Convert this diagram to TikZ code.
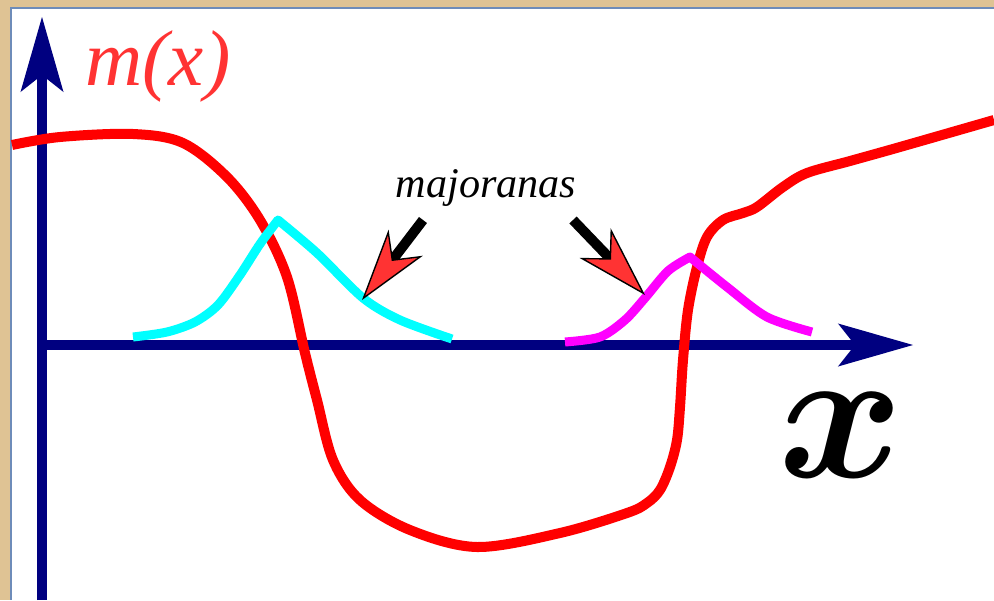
\RequirePackage{fix-cm}
\documentclass[tikz,border=0pt]{standalone}
\usepackage{amsmath}
\usepackage{fontspec}
\setmainfont{Liberation Serif}
\usetikzlibrary{arrows.meta}
\definecolor{framebg}{RGB}{223,195,148}
\definecolor{frameline}{RGB}{110,140,185}
\definecolor{axisblue}{RGB}{0,0,128}
\definecolor{mred}{RGB}{255,51,51}
\definecolor{modecyan}{RGB}{0,255,255}
\definecolor{modemagenta}{RGB}{255,0,255}

\begin{document}
\begin{tikzpicture}[x=0.01cm,y=-0.01cm,
  axis/.style={axisblue,line width=0.1cm,
    -{Stealth[length=0.75cm,width=0.43cm,inset=0.17cm,line width=0pt]}},
  curve/.style={line width=0.1cm,line join=round},
  mode/.style={line width=0.09cm,line join=round},
  pointer/.style={black,line width=0.1cm,
    -{Stealth[length=0.72cm,width=0.43cm,inset=0.21cm,line width=0.4pt,fill=mred]}}]
  \useasboundingbox (0,0) rectangle (994,600);
  % frame
  \fill[framebg] (0,0) rectangle (994,600);
  \fill[white] (11,8) rectangle (994,600);
  \draw[frameline,line width=0.3pt] (994,8) -- (11,8) -- (11,600);
  % axes
  \coordinate (origin) at (42,345);
  \coordinate (ytop) at (42,17);
  \coordinate (ybot) at (42,600);
  \coordinate (xend) at (913,345);
  \draw[axis] (ybot) -- (ytop);
  \draw[axis] (origin) -- (xend);
  % m(x)
  \draw[curve,red] plot[smooth,tension=0.55] coordinates {
    (12,145) (60,137) (133,134) (183,143) (227,177) (260,220) (287,277)
    (305,353) (317,400) (333,460) (360,500) (410,530) (477,547) (560,533)
    (627,513) (647,503) (660,490) (670,467) (677,440) (680,407) (683,360)
    (688,310) (697,267) (707,237) (723,220) (743,213) (757,207) (783,187)
    (807,173) (850,161) (900,147) (994,120)};
  % majorana modes
  \draw[mode,modecyan] plot[smooth] coordinates {
    (133,337) (167,332) (195,322) (218,305) (240,275) (260,244) (278,220)}
    -- plot[smooth] coordinates {
    (278,220) (317,253) (363,298) (400,320) (452,339)};
  \draw[mode,modemagenta] plot[smooth] coordinates {
    (565,342) (600,337) (625,320) (645,298) (668,271) (690,257)}
    -- plot[smooth] coordinates {
    (690,257) (727,287) (767,317) (812,332)};
  % labels
  \node[anchor=base,inner sep=0pt,mred,font=\fontsize{22.5}{26}\selectfont\itshape]
    (mlabel) at (158,85) {m(x)};
  \node[anchor=base,inner sep=0pt,font=\fontsize{12}{14}\selectfont\itshape]
    (majo) at (486,197) {majoranas};
  \node[anchor=base,inner sep=0pt,font=\fontsize{54}{60}\selectfont]
    (xlabel) at (841,477) {$\boldsymbol{x}$};
  % pointers
  \coordinate (ltail) at (423,220);
  \coordinate (ltip) at (362,300);
  \coordinate (rtail) at (573,220);
  \coordinate (rtip) at (645,295);
  \draw[pointer] (ltail) -- (ltip);
  \draw[pointer] (rtail) -- (rtip);
\end{tikzpicture}
\end{document}
